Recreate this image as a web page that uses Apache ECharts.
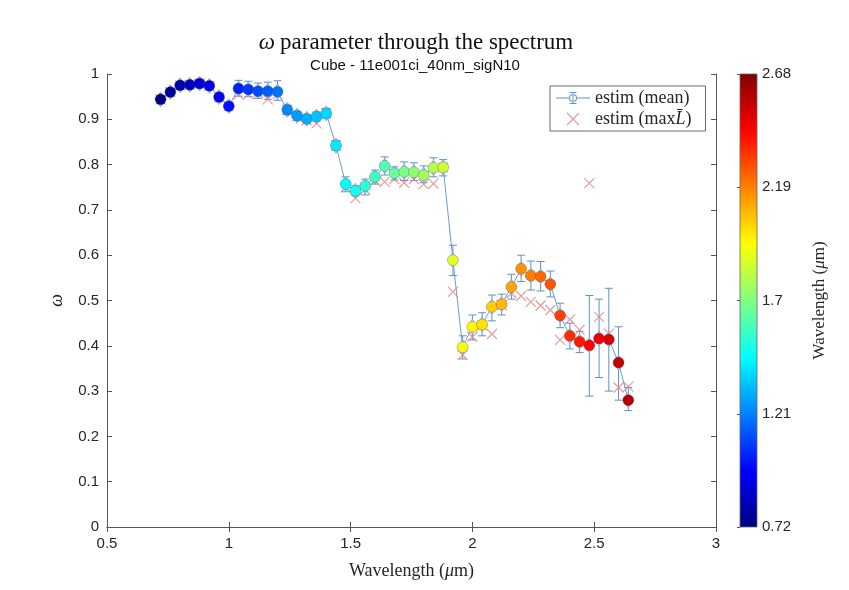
<!DOCTYPE html>
<html>
<head>
<meta charset="utf-8">
<script src="https://cdn.jsdelivr.net/npm/echarts@6/dist/echarts.min.js"></script>
<style>html,body{margin:0;padding:0;background:#fff}#c{width:849px;height:590px}</style>
</head>
<body>
<div id="c"></div>
<script>
const wavelength = [0.72,0.76,0.80,0.84,0.88,0.92,0.96,1.00,1.04,1.08,1.12,1.16,1.20,1.24,1.28,1.32,1.36,1.40,1.44,1.48,1.52,1.56,1.60,1.64,1.68,1.72,1.76,1.80,1.84,1.88,1.92,1.96,2.00,2.04,2.08,2.12,2.16,2.20,2.24,2.28,2.32,2.36,2.40,2.44,2.48,2.52,2.56,2.60,2.64];
const omegaMean = [0.944,0.960,0.975,0.976,0.979,0.974,0.949,0.929,0.968,0.966,0.962,0.962,0.961,0.921,0.908,0.901,0.906,0.913,0.842,0.757,0.742,0.753,0.773,0.797,0.781,0.784,0.783,0.777,0.793,0.794,0.589,0.397,0.442,0.447,0.486,0.492,0.530,0.570,0.555,0.553,0.536,0.467,0.422,0.409,0.401,0.416,0.414,0.363,0.280];
const errLower = [0.936,0.952,0.967,0.968,0.971,0.966,0.941,0.921,0.951,0.950,0.946,0.944,0.942,0.911,0.898,0.892,0.896,0.903,0.832,0.740,0.731,0.733,0.757,0.777,0.766,0.765,0.765,0.760,0.773,0.775,0.555,0.371,0.413,0.422,0.455,0.468,0.503,0.542,0.523,0.521,0.508,0.440,0.393,0.385,0.289,0.330,0.300,0.280,0.257];
const errUpper = [0.952,0.968,0.983,0.984,0.987,0.982,0.957,0.937,0.986,0.984,0.980,0.982,0.985,0.931,0.918,0.910,0.916,0.924,0.853,0.773,0.753,0.768,0.788,0.817,0.795,0.806,0.804,0.797,0.815,0.811,0.622,0.422,0.468,0.473,0.512,0.514,0.558,0.600,0.587,0.586,0.565,0.494,0.450,0.432,0.511,0.503,0.527,0.442,0.308];
const omegaMaxL = [0.944,0.960,0.975,0.976,0.979,0.974,0.949,0.929,0.955,0.955,0.958,0.944,0.955,0.921,0.906,0.898,0.891,0.913,0.842,0.750,0.726,0.745,0.765,0.762,0.768,0.760,0.768,0.757,0.758,0.794,0.519,0.380,0.420,0.445,0.426,0.490,0.516,0.510,0.497,0.489,0.479,0.413,0.458,0.435,0.759,0.464,0.427,0.308,0.310];
const xTicks = [0.5, 1, 1.5, 2, 2.5, 3];
const yTicks = [0, 0.1, 0.2, 0.3, 0.4, 0.5, 0.6, 0.7, 0.8, 0.9, 1];
const cbTickLabels = ['0.72', '1.21', '1.7', '2.19', '2.68'];
const cbMin = 0.72, cbMax = 2.68;
const pointColorMax = 2.74;

const jet = ['#000080','#0000ff','#0080ff','#00ffff','#80ff80','#ffff00','#ff8000','#ff0000','#800000'];
const serif = "'Liberation Serif','DejaVu Serif',serif";
const sans = "'Liberation Sans',Arial,sans-serif";
const axisCol = '#555555';
const labCol = '#262626';

const meanData = wavelength.map((w, i) => [w, omegaMean[i]]);
const errData = wavelength.map((w, i) => [w, errLower[i], errUpper[i]]);
const maxLData = wavelength.map((w, i) => [w, omegaMaxL[i]]);

const chart = echarts.init(document.getElementById('c'), null, {renderer: 'canvas'});
function richSet(size, col) {
  return {
    r: {fontFamily: serif, fontSize: size, fontWeight: 'normal', color: col},
    i: {fontFamily: serif, fontSize: size, fontWeight: 'normal', fontStyle: 'italic', color: col}
  };
}
const option = {
  animation: false,
  backgroundColor: '#fff',
  title: [
    {text: '{i|ω} {r|parameter through the spectrum}', left: 411, top: 26, textAlign: 'center',
     textStyle: {fontWeight: 'normal', rich: richSet(23, '#111')}},
    {text: 'Cube - 11e001ci_40nm_sigN10', left: 410, top: 53, textAlign: 'center',
     textStyle: {fontFamily: sans, fontSize: 15, fontWeight: 'normal', color: '#111'}}
  ],
  legend: {
    orient: 'vertical', left: 550, top: 86,
    backgroundColor: '#fff', borderColor: '#444', borderWidth: 0.8, borderRadius: 0,
    padding: [3, 14, 3, 6], itemGap: 3, itemWidth: 34, itemHeight: 12,
    textStyle: {fontFamily: serif, fontSize: 18, color: labCol, rich: richSet(18, labCol)},
    formatter: function (name) {
      if (name === 'estim (maxL)') return '{r|estim (max}{i|L̄}{r|)}';
      return '{r|' + name + '}';
    },
    data: [
      {name: 'estim (mean)', icon: 'path://M0,5.5 H13 V6.5 H0 Z M21,5.5 H34 V6.5 H21 Z M16.5,0 H17.5 V12 H16.5 Z M13.5,0 H20.5 V1 H13.5 Z M13.5,11 H20.5 V12 H13.5 Z M13,6 A4,4 0 1,0 21,6 A4,4 0 1,0 13,6 Z M14,6 A3,3 0 1,1 20,6 A3,3 0 1,1 14,6 Z',
       itemStyle: {color: '#5f91c4', borderWidth: 0}},
      {name: 'estim (maxL)', icon: 'path://M12,1 L22,11 M22,1 L12,11',
       itemStyle: {color: 'transparent', borderColor: '#dc8384', borderWidth: 1.2}}
    ]
  },
  grid: [
    {left: 107, right: 133, top: 74, bottom: 63},
    {left: 740, width: 17, top: 74, bottom: 63}
  ],
  xAxis: [
    {type: 'value', gridIndex: 0, min: xTicks[0], max: xTicks[xTicks.length - 1], interval: 0.5,
     name: '{r|Wavelength (}{i|μ}{r|m)}', nameLocation: 'middle', nameGap: 35,
     nameTextStyle: {rich: richSet(18, labCol)},
     axisLine: {show: true, lineStyle: {color: axisCol, width: 1}},
     axisTick: {show: true, inside: true, length: 5, lineStyle: {color: axisCol}},
     axisLabel: {fontFamily: sans, fontSize: 15, color: labCol, margin: 9, formatter: v => String(v)},
     splitLine: {show: false}},
    {type: 'value', gridIndex: 0, position: 'top', min: xTicks[0], max: xTicks[xTicks.length - 1], interval: 0.5,
     axisLine: {show: true, lineStyle: {color: axisCol, width: 1}},
     axisTick: {show: true, inside: true, length: 5, lineStyle: {color: axisCol}},
     axisLabel: {show: false}, splitLine: {show: false}},
    {type: 'value', gridIndex: 1, min: 0, max: 1, show: false}
  ],
  yAxis: [
    {type: 'value', gridIndex: 0, min: yTicks[0], max: yTicks[yTicks.length - 1], interval: 0.1,
     name: 'ω', nameLocation: 'middle', nameGap: 41, nameRotate: 90,
     nameTextStyle: {fontFamily: serif, fontSize: 18, fontStyle: 'italic', color: labCol},
     axisLine: {show: true, lineStyle: {color: axisCol, width: 1}},
     axisTick: {show: true, inside: true, length: 5, lineStyle: {color: axisCol}},
     axisLabel: {fontFamily: sans, fontSize: 15, color: labCol, margin: 8, formatter: v => String(+v.toFixed(1))},
     splitLine: {show: false}},
    {type: 'value', gridIndex: 0, position: 'right', min: yTicks[0], max: yTicks[yTicks.length - 1], interval: 0.1,
     axisLine: {show: true, lineStyle: {color: axisCol, width: 1}},
     axisTick: {show: true, inside: true, length: 5, lineStyle: {color: axisCol}},
     axisLabel: {show: false}, splitLine: {show: false}},
    {type: 'value', gridIndex: 1, position: 'right', min: 0, max: cbTickLabels.length - 1, interval: 1,
     name: '{r|Wavelength (}{i|μ}{r|m)}', nameLocation: 'middle', nameGap: 54, nameRotate: 90,
     nameTextStyle: {rich: richSet(17, labCol)},
     axisLine: {show: false},
     axisTick: {show: true, inside: true, length: 3, lineStyle: {color: axisCol}},
     axisLabel: {fontFamily: sans, fontSize: 15, color: labCol, margin: 5, formatter: (v) => cbTickLabels[Math.round(v)]},
     splitLine: {show: false}}
  ],
  visualMap: {
    show: false, type: 'continuous', min: cbMin, max: pointColorMax, dimension: 0, seriesIndex: 3,
    inRange: {color: jet}
  },
  series: [
    {
      type: 'custom', name: 'err', xAxisIndex: 0, yAxisIndex: 0, z: 2,
      data: errData,
      renderItem: function (params, api) {
        const x = api.value(0);
        const lo = api.coord([x, api.value(1)]);
        const hi = api.coord([x, api.value(2)]);
        const h = 4;
        const st = {stroke: '#5f91c4', lineWidth: 1};
        return {type: 'group', children: [
          {type: 'line', shape: {x1: lo[0], y1: lo[1], x2: hi[0], y2: hi[1]}, style: st},
          {type: 'line', shape: {x1: lo[0] - h, y1: lo[1], x2: lo[0] + h, y2: lo[1]}, style: st},
          {type: 'line', shape: {x1: hi[0] - h, y1: hi[1], x2: hi[0] + h, y2: hi[1]}, style: st}
        ]};
      }
    },
    {
      type: 'line', name: 'estim (mean)', xAxisIndex: 0, yAxisIndex: 0, z: 3,
      data: meanData,
      lineStyle: {color: '#6d9ccc', width: 1},
      symbol: 'diamond', symbolSize: [10, 15],
      itemStyle: {color: '#b9d3ec', borderColor: '#7aa6d2', borderWidth: 0.8}
    },
    {
      type: 'scatter', name: 'estim (maxL)', xAxisIndex: 0, yAxisIndex: 0, z: 4,
      data: maxLData,
      symbol: 'path://M0,0 L10,10 M10,0 L0,10', symbolSize: 10,
      itemStyle: {color: 'transparent', borderColor: '#dc8384', borderWidth: 1.2}
    },
    {
      type: 'scatter', name: 'colored', xAxisIndex: 0, yAxisIndex: 0, z: 5,
      data: meanData,
      symbol: 'circle', symbolSize: 11,
      itemStyle: {borderColor: 'rgba(60,70,120,0.55)', borderWidth: 0.6, opacity: 1}
    },
    {
      type: 'custom', name: 'colorbar', xAxisIndex: 2, yAxisIndex: 2, z: 2, silent: true,
      data: [[0]],
      renderItem: function (params, api) {
        const tl = api.coord([0, cbTickLabels.length - 1]);
        const br = api.coord([1, 0]);
        const stops = jet.map((c, k) => ({offset: 1 - k / (jet.length - 1), color: c}));
        stops.reverse();
        return {type: 'rect', shape: {x: tl[0], y: tl[1], width: br[0] - tl[0], height: br[1] - tl[1]},
          style: {fill: new echarts.graphic.LinearGradient(0, 0, 0, 1, stops), stroke: '#666', lineWidth: 0.8}};
      }
    }
  ]
};
chart.setOption(option);
</script>
</body>
</html>
